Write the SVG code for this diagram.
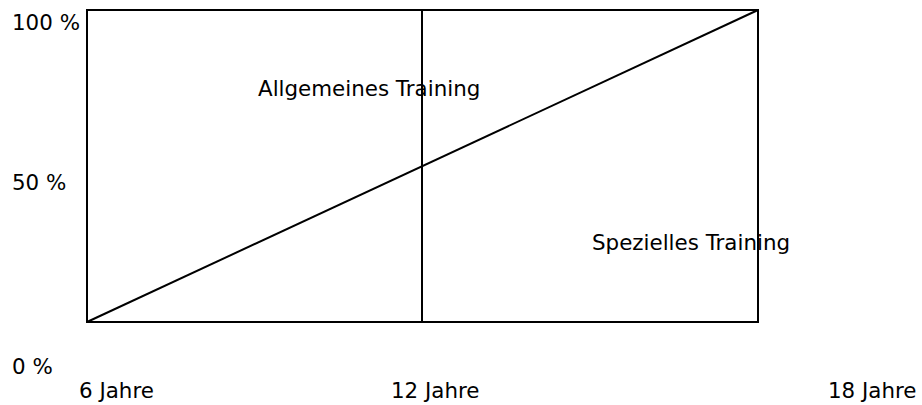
<svg xmlns="http://www.w3.org/2000/svg" width="922" height="405" viewBox="0 0 922 405">
<style>
text{font-family:"DejaVu Sans",Verdana,sans-serif;font-size:21.4px;fill:#000}
.ln{stroke:#000;stroke-width:2;fill:none}
</style>
<rect width="922" height="405" fill="#fff"/>
<g id="frame"><rect class="ln" x="87" y="10" width="671" height="312"/></g>
<g id="connectors">
<line class="ln" x1="422" y1="10" x2="422" y2="322"/>
<line class="ln" x1="87" y1="322" x2="758" y2="10"/>
</g>
<g id="labels">
<text x="12" y="30">100 %</text>
<text x="12" y="190">50 %</text>
<text x="12" y="374">0 %</text>
<text x="79" y="398">6 Jahre</text>
<text x="391" y="398">12 Jahre</text>
<text x="828" y="398">18 Jahre</text>
<text x="258" y="96">Allgemeines Training</text>
<text x="592" y="250">Spezielles Training</text>
</g>
</svg>
